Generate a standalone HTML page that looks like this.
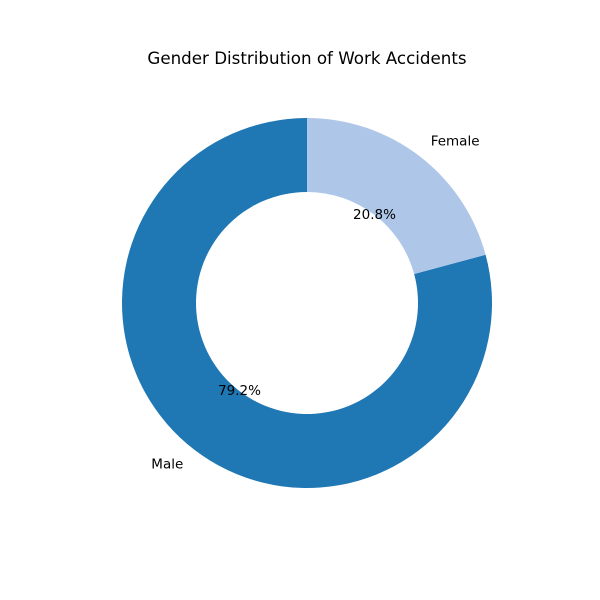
<!DOCTYPE html>
<html><head><meta charset="utf-8"><style>
body{margin:0;background:#fff;}
svg{display:block;font-family:"DejaVu Sans","Liberation Sans",sans-serif;}
</style></head><body>
<svg id="chart" width="600" height="600">
<text x="307" y="64" text-anchor="middle" font-size="16.7" fill="#000">Gender Distribution of Work Accidents</text>
</svg>
<script>
const categories = ["Male", "Female"];
const values = [79.2, 20.8];
const colors = ["#1f77b4", "#aec7e8"];
const svg = document.getElementById('chart');
const NS = 'http://www.w3.org/2000/svg';
const cx = 307, cy = 303, R = 185, r = 111;
const total = values.reduce((a,b)=>a+b,0);
function pt(angDeg, rad){const a=angDeg*Math.PI/180;return [cx+rad*Math.cos(a), cy-rad*Math.sin(a)];}
let start = 90;
values.forEach((v,i)=>{
  const sweep = v/total*360;
  const end = start + sweep;
  const large = sweep>180?1:0;
  const [x1,y1]=pt(start,R),[x2,y2]=pt(end,R),[x3,y3]=pt(end,r),[x4,y4]=pt(start,r);
  const p=document.createElementNS(NS,'path');
  p.setAttribute('d',`M${x1},${y1} A${R},${R} 0 ${large} 0 ${x2},${y2} L${x3},${y3} A${r},${r} 0 ${large} 1 ${x4},${y4} Z`);
  p.setAttribute('fill',colors[i]);
  
  
  svg.appendChild(p);
  const mid=start+sweep/2;
  const [lx,ly]=pt(mid,R*1.1);
  const t=document.createElementNS(NS,'text');
  t.setAttribute('x',lx);t.setAttribute('y',ly+4);t.setAttribute('font-size','13.5');
  t.setAttribute('text-anchor',Math.cos(mid*Math.PI/180)<0?'end':'start');
  t.textContent=categories[i];
  
  
  svg.appendChild(t);
  const [px,py]=pt(mid,R*0.6);
  const q=document.createElementNS(NS,'text');
  q.setAttribute('x',px);q.setAttribute('y',py+4);q.setAttribute('font-size','13.5');
  q.setAttribute('text-anchor','middle');
  q.textContent=(v/total*100).toFixed(1)+'%';
  
  
  svg.appendChild(q);
  start=end;
});
</script>
</body></html>
